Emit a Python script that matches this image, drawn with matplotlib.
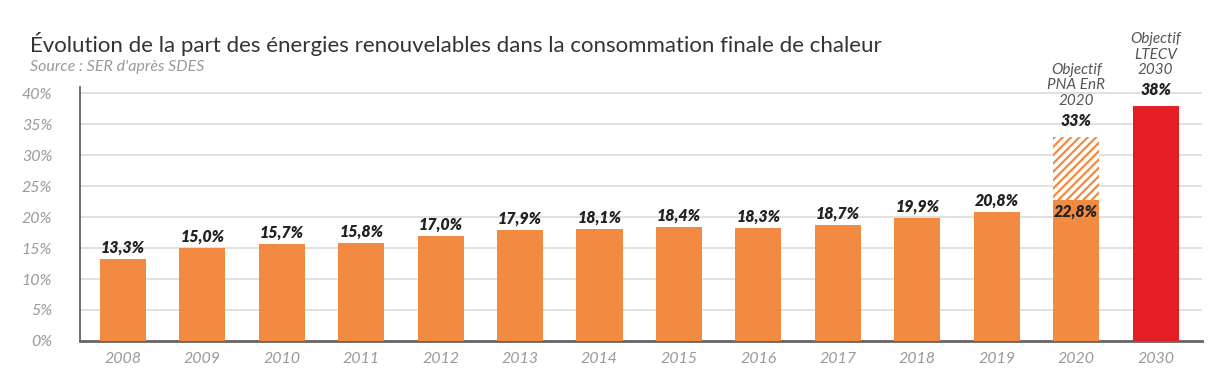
import matplotlib.pyplot as plt
import numpy as np

years = ["2008", "2009", "2010", "2011", "2012", "2013", "2014", "2015",
         "2016", "2017", "2018", "2019", "2020", "2030"]
shares = [13.3, 15.0, 15.7, 15.8, 17.0, 17.9, 18.1, 18.4, 18.3, 18.7, 19.9, 20.8, 22.8, 38.0]
labels = ["13,3%", "15,0%", "15,7%", "15,8%", "17,0%", "17,9%", "18,1%", "18,4%",
          "18,3%", "18,7%", "19,9%", "20,8%", "22,8%", "38%"]
target_2020 = 33.0
yticks = [0, 5, 10, 15, 20, 25, 30, 35, 40]

orange = "#F28A42"
red = "#E51E25"
grey = "#9a9a9a"
dark = "#222222"

plt.rcParams['font.family'] = ['Lato', 'DejaVu Sans']
plt.rcParams['hatch.color'] = orange
plt.rcParams['hatch.linewidth'] = 1.6

fig = plt.figure(figsize=(12.3, 3.87), dpi=100)
ax = fig.add_axes([0.065, 0.119, 0.912, 0.656])

x = np.arange(len(years))
colors = [orange] * (len(years) - 1) + [red]

# target hatch part for 2020 (drawn behind the measured part)
ax.bar(x[12], target_2020 - shares[12], bottom=shares[12], width=0.58,
       color="white", edgecolor=orange, hatch="////", linewidth=0, zorder=2)
ax.bar(x, shares, width=0.58, color=colors, zorder=3)

vfont = dict(fontsize=11.5, fontweight="heavy", fontstyle="italic", color=dark)
afont = dict(fontsize=11, fontstyle="italic", color="#555555", linespacing=1.15)

for i, (v, lab) in enumerate(zip(shares, labels)):
    if i == 12:
        ax.text(x[i], v - 0.6, lab, ha="center", va="top", zorder=4, **vfont)
    elif i == 13:
        ax.text(x[i], v + 1.3, lab, ha="center", va="bottom", **vfont)
        ax.text(x[i], v + 4.6, "Objectif\nLTECV\n2030", ha="center", va="bottom",
                clip_on=False, **afont)
    else:
        ax.text(x[i], v + 0.5, lab, ha="center", va="bottom", **vfont)

ax.text(x[12], target_2020 + 1.3, "33%", ha="center", va="bottom", **vfont)
ax.text(x[12], target_2020 + 4.6, "Objectif\nPNA EnR\n2020", ha="center", va="bottom",
        **afont)

ax.set_xlim(-0.54, 13.58)
ax.set_ylim(0, 41)
ax.set_yticks(yticks)
ax.set_yticklabels([f"{t}%" for t in yticks], fontsize=11.5, fontstyle="italic", color=grey)
ax.set_xticks(x)
ax.set_xticklabels(years, fontsize=11.5, fontstyle="italic", color=grey)
ax.tick_params(length=0, pad=8)
ax.tick_params(axis="y", pad=20)

ax.grid(axis="y", color="#dcdcdc", linewidth=1.2, zorder=0)
ax.set_axisbelow(True)
for s in ["top", "right"]:
    ax.spines[s].set_visible(False)
ax.spines["left"].set_color("#555555")
ax.spines["left"].set_linewidth(1.2)
ax.spines["bottom"].set_color("#666666")
ax.spines["bottom"].set_linewidth(2)

fig.text(0.024, 0.866, "Évolution de la part des énergies renouvelables dans la consommation finale de chaleur",
         fontsize=16, color="#333333", va="baseline")
fig.text(0.024, 0.817, "Source : SER d'après SDES", fontsize=11.5, fontstyle="italic",
         color=grey, va="baseline")

fig.savefig("out.png", dpi=100)
